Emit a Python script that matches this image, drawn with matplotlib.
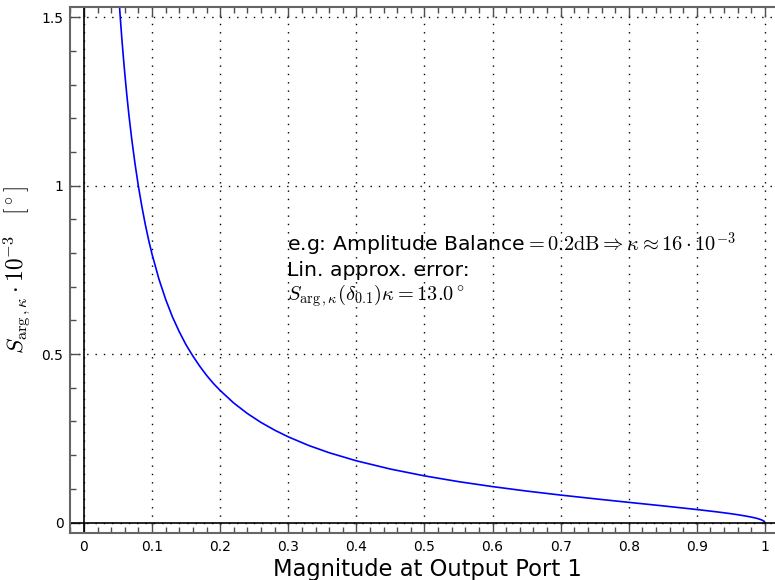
import numpy as np
import matplotlib
matplotlib.use("Agg")
from matplotlib import pyplot as plt
from matplotlib.ticker import MultipleLocator, FixedLocator

# valores
magnitud = [0.05, 0.052, 0.054, 0.056, 0.058, 0.06, 0.063, 0.066, 0.07, 0.075,
            0.08, 0.085, 0.09, 0.095, 0.10, 0.11, 0.12, 0.13, 0.14, 0.15, 0.16,
            0.17, 0.18, 0.19, 0.20, 0.22, 0.24, 0.26, 0.28, 0.30, 0.33, 0.36,
            0.40, 0.45, 0.50, 0.55, 0.60, 0.65, 0.70, 0.75, 0.80, 0.85, 0.90,
            0.93, 0.95, 0.96, 0.97, 0.98, 0.985, 0.99, 0.995, 0.999, 1.0]
sensibilidad = [1.598, 1.536, 1.479, 1.426, 1.377, 1.331, 1.267, 1.209, 1.140,
                1.064, 0.997, 0.938, 0.885, 0.838, 0.796, 0.723, 0.662, 0.610,
                0.566, 0.527, 0.494, 0.464, 0.437, 0.413, 0.392, 0.3547, 0.3236,
                0.2971, 0.2743, 0.2544, 0.2288, 0.2073, 0.1833, 0.1588, 0.1386,
                0.1215, 0.1067, 0.0935, 0.0816, 0.0706, 0.060, 0.0496, 0.0387,
                0.0316, 0.0263, 0.0233, 0.0200, 0.0162, 0.0140, 0.0114, 0.0080,
                0.0036, 0.0]

xticks = [0, 0.1, 0.2, 0.3, 0.4, 0.5, 0.6, 0.7, 0.8, 0.9, 1]
xticklabels = ["0", "0.1", "0.2", "0.3", "0.4", "0.5", "0.6", "0.7", "0.8", "0.9", "1"]
yticks = [0, 0.5, 1, 1.5]
yticklabels = ["0", "0.5", "1", "1.5"]

texto = (r"e.g: Amplitude Balance$=0.2\mathrm{dB}\Rightarrow\kappa\approx16\cdot10^{-3}$" + "\n"
         + "Lin. approx. error:" + "\n"
         + r"$S_{\arg,\kappa}(\delta_{0.1})\kappa=13.0^\circ$")

plt.rcParams['mathtext.fontset'] = 'cm'

fig = plt.figure(figsize=(7.75, 5.8), dpi=100)
ax = fig.add_axes([0.0908, 0.0816, 0.9226, 0.9062])

ax.plot(magnitud, sensibilidad, color="blue", lw=1.2)
ax.axhline(0, color="black", lw=1.2)
ax.axvline(0, color="black", lw=1.2)

ax.set_xlim(-0.02, 1.03)
ax.set_ylim(-0.03, 1.53)

ax.xaxis.set_major_locator(FixedLocator(xticks))
ax.set_xticklabels(xticklabels)
ax.xaxis.set_minor_locator(MultipleLocator(0.02))
ax.yaxis.set_major_locator(FixedLocator(yticks))
ax.set_yticklabels(yticklabels)
ax.yaxis.set_minor_locator(MultipleLocator(0.1))

ax.grid(True, which="major", color="black", linestyle=(0, (1, 5)), lw=1)
ax.tick_params(which="both", direction="in", top=True, right=True, color="0.3")
ax.tick_params(which="major", length=7, width=1, labelsize=10, pad=5)
ax.tick_params(which="minor", length=4, width=1)
for s in ax.spines.values():
    s.set_color("0.4")
    s.set_linewidth(1.5)

ax.set_xlabel("Magnitude at Output Port 1", fontsize=16.3, labelpad=3)
ax.set_ylabel(r"$S_{\arg,\kappa}\cdot10^{-3}\quad[^\circ]$", fontsize=16.8, labelpad=6)

ax.text(0.298, 0.866, texto, fontsize=14.7, va="top", ha="left", linespacing=1.15)

fig.savefig("out.png", dpi=100)
